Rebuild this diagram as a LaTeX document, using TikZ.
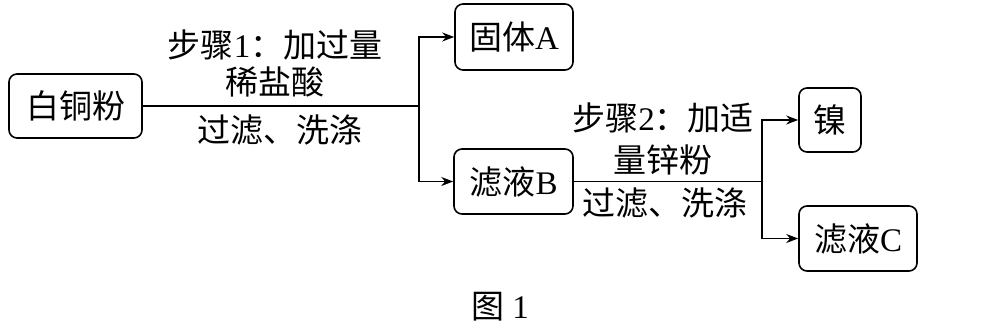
\documentclass[tikz,border=0pt]{standalone}
\usepackage{fontspec}
\setmainfont{Liberation Serif}
\newfontfamily\cjk{Noto Sans CJK SC}
\usetikzlibrary{arrows.meta,positioning}

\tikzset{
  box/.style={draw,rounded corners=4pt,line width=0.8pt,inner sep=0pt,
    font=\fontsize{16.5}{20}\selectfont},
  lbl/.style={inner sep=0pt,font=\fontsize{16.5}{20}\selectfont},
  arr/.style={-{Stealth[length=6pt,width=4.5pt]},line width=0.8pt}
}

\begin{document}
\begin{tikzpicture}[x=0.5pt,y=-0.5pt]
\useasboundingbox (0,0) rectangle (989,330);
% boxes
\node [box,minimum width=66.5pt,minimum height=32pt] (bai) at (75.5,106) {\cjk 白铜粉};
\node [box,minimum width=59pt,minimum height=33pt] (guti) at (514,37) {{\cjk 固体}A};
\node [box,minimum width=59.5pt,minimum height=32.5pt] (lvb) at (513.5,181.5) {{\cjk 滤液}B};
\node [box,minimum width=31pt,minimum height=32pt] (nie) at (830,120) {\cjk 镍};
\node [box,minimum width=59pt,minimum height=32.5pt] (lvc) at (858,238.5) {{\cjk 滤液}C};
% branch points
\coordinate (s1) at (419,106);
\coordinate (s2) at (762,181.5);
% connectors
\draw [line width=0.8pt] (bai) -- (s1);
\draw [arr] (s1) |- (guti);
\draw [arr] (s1) |- (lvb);
\draw [line width=0.8pt] (lvb) -- (s2);
\draw [arr] (s2) |- (nie);
\draw [arr] (s2) |- (lvc);
% labels
\node [lbl] (t1a) at (275,45) {{\cjk 步骤}1{\cjk ：加过量}};
\node [lbl] (t1b) at (275,82) {\cjk 稀盐酸};
\node [lbl] (t1c) at (280,130) {\cjk 过滤、洗涤};
\node [lbl] (t2a) at (663,118) {{\cjk 步骤}2{\cjk ：加适}};
\node [lbl] (t2b) at (663,160) {\cjk 量锌粉};
\node [lbl] (t2c) at (665,203) {\cjk 过滤、洗涤};
\node [lbl] (cap) at (500,307) {{\cjk 图}\ 1};
\end{tikzpicture}
\end{document}
